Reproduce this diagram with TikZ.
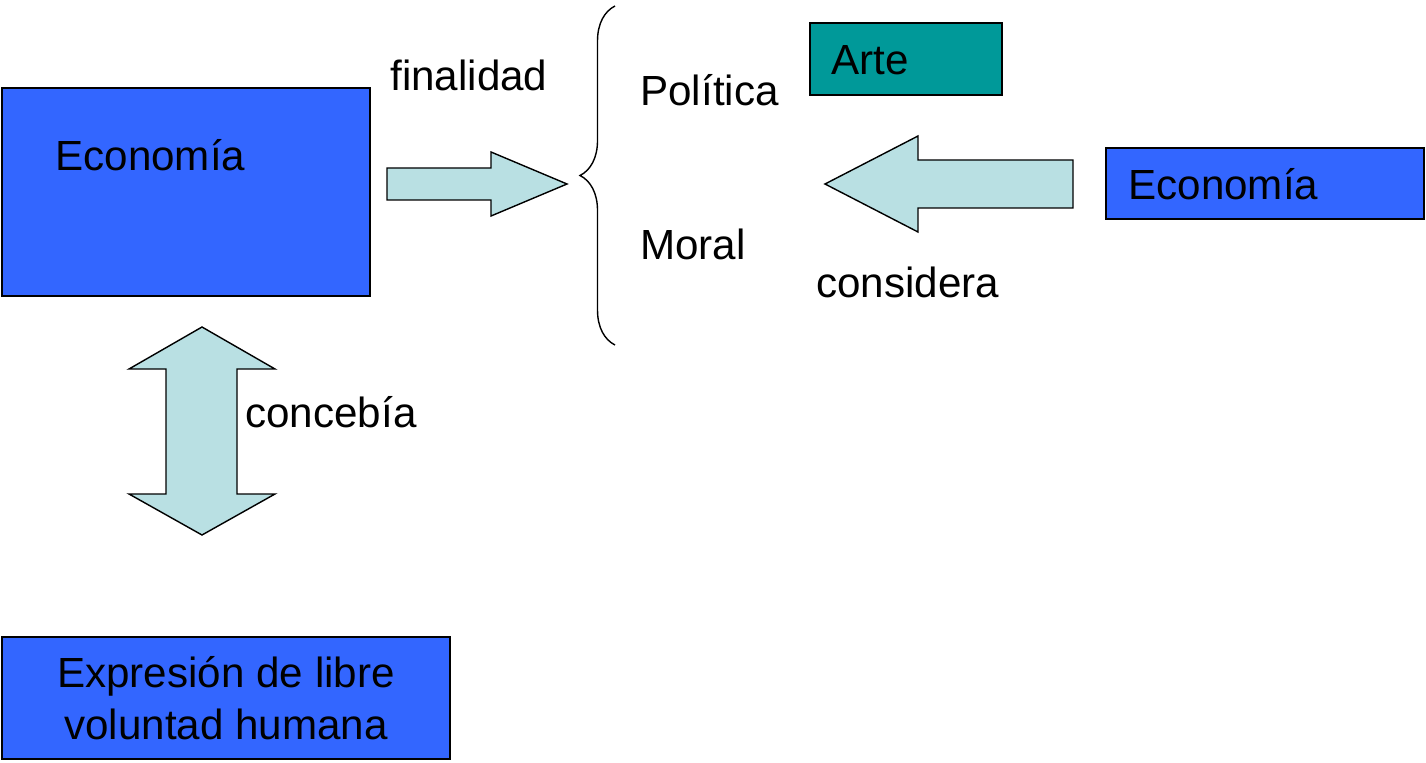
\documentclass[tikz,border=0pt]{standalone}
\usepackage{fontspec}
\setmainfont{Liberation Sans}
\usetikzlibrary{decorations.pathreplacing}
\definecolor{azul}{RGB}{51,102,255}
\definecolor{verdeazul}{RGB}{0,153,153}
\definecolor{celeste}{RGB}{185,224,227}

\begin{document}
\begin{tikzpicture}[x=0.02cm, y=-0.02cm,
        caja/.style={draw=black, line width=1.2pt, fill=azul},
        flecha/.style={draw=black, line width=0.8pt, fill=celeste, line join=miter},
        texto/.style={font=\fontsize{24}{29.5}\selectfont, inner sep=0pt, anchor=base west}
    ]
    \useasboundingbox (0,0) rectangle (1426,763);

    % Cajas
    \draw[caja] (2,88) rectangle (370,296);
    \draw[caja, fill=verdeazul] (810,23) rectangle (1002,95);
    \draw[caja] (1106,148) rectangle (1424,219);
    \draw[caja] (2,637) rectangle (450,759);

    % Textos
    \node[texto] (econ) at (55,171) {Economía};
    \node[texto] (fin) at (390,91) {finalidad};
    \node[texto] (pol) at (640,106) {Política};
    \node[texto] (moral) at (640,260) {Moral};
    \node[texto] (arte) at (831,75) {Arte};
    \node[texto] (econ2) at (1128,200) {Economía};
    \node[texto] (cons) at (816,298) {considera};
    \node[texto] (conc) at (245,427) {concebía};
    \node[texto, anchor=center, align=center] (expr) at (226,698) {Expresión de libre\\voluntad humana};

    % Flechas
    \draw[flecha] (387,168) -- (491,168) -- (491,152) -- (567,184) -- (491,216) -- (491,200) -- (387,200) -- cycle;
    \draw[flecha] (1073,160) -- (918,160) -- (918,136) -- (825,184) -- (918,232) -- (918,208) -- (1073,208) -- cycle;
    \draw[flecha] (166,369) -- (129,369) -- (202,327) -- (275,369) -- (237,369) -- (237,494)
        -- (275,494) -- (202,535) -- (129,494) -- (166,494) -- cycle;

    % Llave
    \draw[line width=0.8pt, decorate, decoration={brace, amplitude=0.7cm}] (615,345) -- (615,6);
\end{tikzpicture}
\end{document}
